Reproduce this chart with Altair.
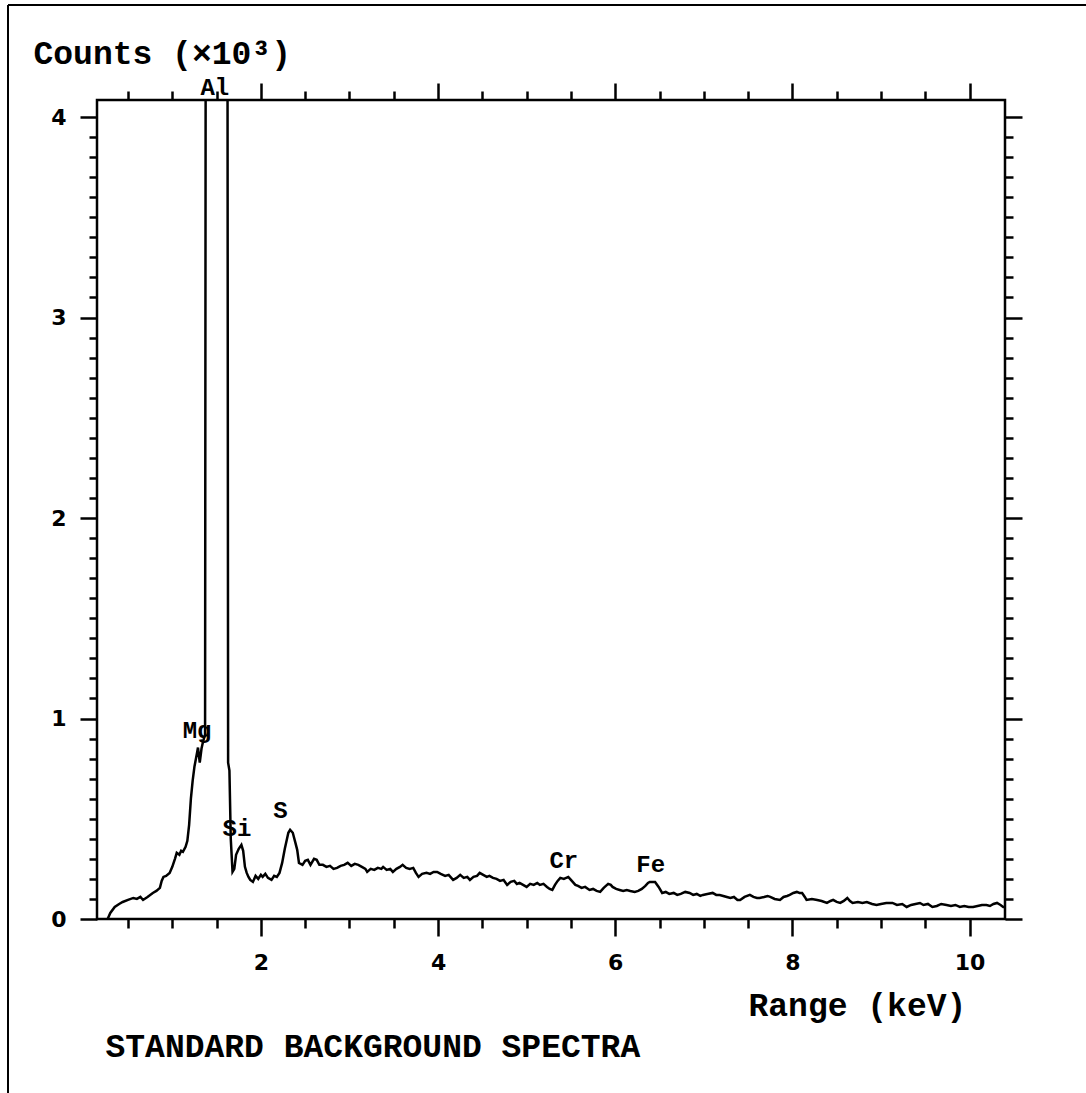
import altair as alt
import pandas as pd

# ---- spectrum (energy in keV, counts in thousands) ----
kev = [0.27, 0.30, 0.35, 0.40, 0.44, 0.50, 0.56, 0.60, 0.64, 0.67, 0.72, 0.78, 0.82, 0.86, 0.88, 0.90,
       0.93, 0.97, 1.00, 1.03, 1.05, 1.08, 1.10, 1.12, 1.15, 1.17, 1.19, 1.21, 1.23, 1.25, 1.28, 1.29,
       1.31, 1.33, 1.35, 1.37, 1.38, 1.62, 1.63, 1.645, 1.66, 1.68, 1.70, 1.72, 1.75, 1.78, 1.80, 1.82,
       1.84, 1.86, 1.88, 1.91, 1.94, 1.97, 2.00, 2.02, 2.05, 2.08, 2.12, 2.15, 2.18, 2.21, 2.24, 2.27,
       2.29, 2.31, 2.33, 2.36, 2.39, 2.41, 2.43, 2.47, 2.50, 2.53, 2.56, 2.60, 2.63, 2.66, 2.70, 2.74,
       2.78, 2.82, 2.86, 2.90, 2.94, 2.98, 3.02, 3.06, 3.10, 3.14, 3.18, 3.20, 3.24, 3.28, 3.32, 3.36,
       3.38, 3.42, 3.46, 3.49, 3.53, 3.57, 3.60, 3.64, 3.68, 3.72, 3.75, 3.78, 3.82, 3.87, 3.91, 3.95,
       3.99, 4.03, 4.08, 4.12, 4.17, 4.21, 4.25, 4.29, 4.33, 4.36, 4.40, 4.44, 4.47, 4.51, 4.55, 4.58,
       4.62, 4.66, 4.70, 4.74, 4.78, 4.82, 4.86, 4.89, 4.92, 4.96, 5.00, 5.04, 5.08, 5.12, 5.15, 5.19,
       5.23, 5.26, 5.29, 5.32, 5.35, 5.38, 5.42, 5.47, 5.50, 5.52, 5.55, 5.58, 5.62, 5.66, 5.71, 5.75,
       5.79, 5.83, 5.87, 5.92, 5.95, 5.97, 6.01, 6.05, 6.09, 6.13, 6.17, 6.22, 6.26, 6.30, 6.34, 6.37,
       6.39, 6.45, 6.49, 6.53, 6.57, 6.61, 6.66, 6.70, 6.74, 6.79, 6.84, 6.88, 6.92, 6.96, 6.99, 7.04,
       7.10, 7.14, 7.18, 7.22, 7.26, 7.30, 7.34, 7.38, 7.41, 7.46, 7.52, 7.56, 7.60, 7.63, 7.68, 7.72,
       7.75, 7.80, 7.86, 7.90, 7.94, 7.97, 8.01, 8.05, 8.08, 8.11, 8.14, 8.16, 8.22, 8.28, 8.33, 8.39,
       8.43, 8.46, 8.50, 8.54, 8.58, 8.62, 8.65, 8.68, 8.74, 8.79, 8.84, 8.90, 8.95, 9.00, 9.06, 9.13,
       9.18, 9.24, 9.29, 9.34, 9.39, 9.44, 9.48, 9.53, 9.58, 9.63, 9.68, 9.74, 9.79, 9.84, 9.89, 9.94,
       9.99, 10.04, 10.09, 10.14, 10.19, 10.23, 10.27, 10.31, 10.35, 10.38, 10.40]
counts = [0.0, 0.03, 0.06, 0.075, 0.085, 0.095, 0.105, 0.10, 0.11, 0.095, 0.11, 0.13, 0.14, 0.155, 0.19, 0.21,
          0.215, 0.23, 0.26, 0.30, 0.33, 0.32, 0.34, 0.335, 0.36, 0.39, 0.47, 0.60, 0.69, 0.76, 0.83, 0.855,
          0.78, 0.85, 0.89, 0.92, 6.0, 6.0, 0.78, 0.74, 0.40, 0.235, 0.25, 0.32, 0.35, 0.37, 0.34, 0.26,
          0.23, 0.21, 0.195, 0.185, 0.215, 0.20, 0.22, 0.21, 0.225, 0.205, 0.195, 0.215, 0.21, 0.23, 0.28, 0.35,
          0.39, 0.43, 0.445, 0.43, 0.38, 0.345, 0.28, 0.27, 0.29, 0.295, 0.27, 0.30, 0.295, 0.27, 0.27, 0.26,
          0.265, 0.25, 0.255, 0.265, 0.27, 0.28, 0.265, 0.275, 0.27, 0.26, 0.25, 0.235, 0.25, 0.245, 0.255, 0.25,
          0.26, 0.245, 0.25, 0.235, 0.25, 0.26, 0.27, 0.255, 0.25, 0.255, 0.23, 0.21, 0.225, 0.23, 0.225, 0.235,
          0.235, 0.225, 0.215, 0.22, 0.195, 0.205, 0.22, 0.205, 0.21, 0.195, 0.21, 0.215, 0.23, 0.22, 0.21, 0.215,
          0.205, 0.20, 0.19, 0.195, 0.17, 0.185, 0.19, 0.175, 0.18, 0.17, 0.16, 0.175, 0.17, 0.18, 0.17, 0.175,
          0.16, 0.15, 0.145, 0.17, 0.19, 0.205, 0.20, 0.21, 0.195, 0.185, 0.17, 0.165, 0.155, 0.16, 0.145, 0.15,
          0.14, 0.135, 0.155, 0.175, 0.17, 0.16, 0.15, 0.145, 0.14, 0.145, 0.14, 0.135, 0.14, 0.15, 0.165, 0.18,
          0.185, 0.185, 0.16, 0.13, 0.135, 0.125, 0.13, 0.12, 0.125, 0.135, 0.13, 0.12, 0.125, 0.115, 0.12, 0.125,
          0.13, 0.12, 0.12, 0.115, 0.11, 0.105, 0.11, 0.095, 0.095, 0.11, 0.12, 0.11, 0.105, 0.105, 0.11, 0.115,
          0.11, 0.10, 0.095, 0.11, 0.115, 0.12, 0.13, 0.135, 0.13, 0.13, 0.11, 0.095, 0.10, 0.095, 0.09, 0.08,
          0.09, 0.095, 0.085, 0.08, 0.09, 0.105, 0.09, 0.08, 0.085, 0.08, 0.085, 0.075, 0.07, 0.075, 0.08, 0.08,
          0.07, 0.075, 0.06, 0.07, 0.075, 0.08, 0.07, 0.075, 0.06, 0.065, 0.075, 0.07, 0.065, 0.07, 0.06, 0.065,
          0.06, 0.06, 0.065, 0.07, 0.07, 0.065, 0.075, 0.08, 0.07, 0.06, 0.06]

# ---- peak labels ----
peak_names = ["Al", "Mg", "Si", "S", "Cr", "Fe"]
peak_kev = [1.48, 1.28, 1.73, 2.22, 5.42, 6.40]
peak_counts = [4.145, 0.94, 0.45, 0.54, 0.29, 0.27]

# ---- axes ----
x_ticks = [0.5 * i for i in range(1, 22)]
y_ticks = [round(0.1 * i, 1) for i in range(0, 42)]
x_domain = [0.15, 10.4]
y_domain = [0.0, 4.085]

spec = pd.DataFrame({"keV": kev, "counts": counts})
peaks = pd.DataFrame({"name": peak_names, "keV": peak_kev, "counts": peak_counts})

MONO = "Liberation Mono"
SANS = "DejaVu Sans"
x_major = "abs(datum.value/2 - round(datum.value/2)) < 0.001"
y_major = "abs(datum.value - round(datum.value)) < 0.001"

xscale = alt.Scale(domain=x_domain, nice=False, zero=False)
yscale = alt.Scale(domain=y_domain, nice=False, zero=False)

common_tick = dict(domain=False, grid=False, ticks=True, tickColor="black", tickWidth=2.5)

axis_bottom = alt.Axis(
    orient="bottom", values=x_ticks, **common_tick,
    tickSize={"condition": {"test": x_major, "value": 17}, "value": 9},
    labelExpr=f"{x_major} ? format(datum.value, 'd') : ''",
    labelFont=SANS, labelFontSize=22, labelFontWeight="bold", labelColor="black",
    labelPadding=16, labelFlush=False, labelOverlap=False,
    title="Range (keV)", titleFont=MONO, titleFontSize=33, titleFontWeight="bold",
    titleColor="black", titleAlign="left", titleBaseline="alphabetic", titleX=651, titleY=96,
)
axis_left = alt.Axis(
    orient="left", values=y_ticks, **common_tick,
    tickSize={"condition": {"test": y_major, "value": 17}, "value": 8},
    labelExpr=f"{y_major} ? format(datum.value, 'd') : ''",
    labelFont=SANS, labelFontSize=22, labelFontWeight="bold", labelColor="black",
    labelPadding=14, labelFlush=False, labelOverlap=False,
    title="Counts (×10³)", titleFont=MONO, titleFontSize=33, titleFontWeight="bold",
    titleColor="black", titleAngle=0, titleAlign="left", titleBaseline="alphabetic",
    titleX=-64, titleY=-37,
)
axis_top = alt.Axis(
    orient="top", values=x_ticks, **common_tick,
    tickSize={"condition": {"test": x_major, "value": 17}, "value": 9},
    labels=False,
    title="STANDARD BACKGROUND SPECTRA", titleFont=MONO, titleFontSize=33,
    titleFontWeight="bold", titleColor="black", titleAlign="left",
    titleBaseline="middle", titleAngle=0, titleX=8, titleY=946,
)
axis_right = alt.Axis(
    orient="right", values=y_ticks, **common_tick,
    tickSize={"condition": {"test": y_major, "value": 17}, "value": 8},
    labels=False, title=None,
)

line = alt.Chart(spec).mark_line(color="black", strokeWidth=2.5, clip=True).encode(
    x=alt.X("keV:Q", scale=xscale, axis=axis_bottom),
    y=alt.Y("counts:Q", scale=yscale, axis=axis_left),
    order="keV:Q",
)

labels = alt.Chart(peaks).mark_text(
    font=MONO, fontSize=24, fontWeight="bold", color="black"
).encode(
    x=alt.X("keV:Q", scale=xscale, axis=axis_top),
    y=alt.Y("counts:Q", scale=yscale, axis=axis_right),
    text="name:N",
)

one = pd.DataFrame({"k": [0]})
frame_top = alt.Chart(one).mark_rule(color="black", strokeWidth=2).encode(
    x=alt.value(-89), x2=alt.value(989), y=alt.value(-95)
)
frame_left = alt.Chart(one).mark_rule(color="black", strokeWidth=2).encode(
    x=alt.value(-89), y=alt.value(-95), y2=alt.value(993)
)

chart = alt.layer(line, labels, frame_top, frame_left).resolve_axis(
    x="independent", y="independent"
).properties(
    width=908, height=819,
    autosize=alt.AutoSizeParams(type="none"),
    padding={"left": 97, "top": 100, "right": 81, "bottom": 174},
).configure(
    background="white",
    view=alt.ViewConfig(stroke="black", strokeWidth=2.5),
)

chart.save("out.html", embed_options={"renderer": "svg", "actions": False})
